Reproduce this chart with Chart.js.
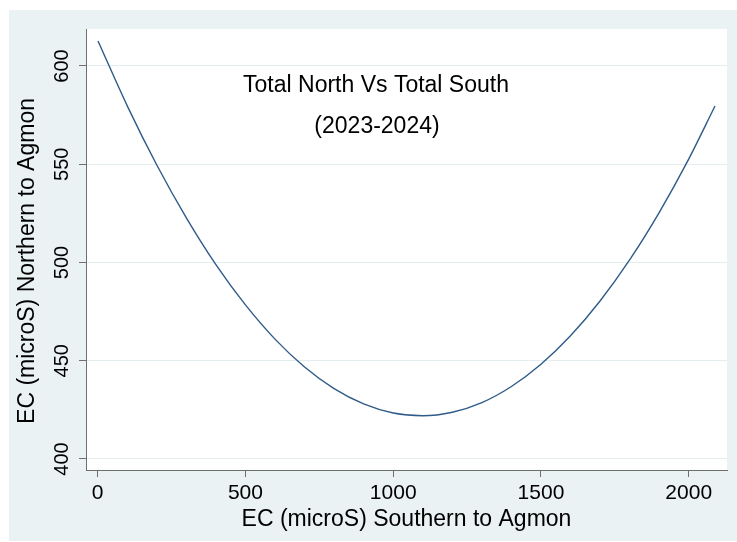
<!DOCTYPE html>
<html>
<head>
<meta charset="utf-8">
<script src="https://cdn.jsdelivr.net/npm/chart.js@4"></script>
<style>
  html, body { margin: 0; padding: 0; background: #fff; }
  #wrap { width: 737px; height: 542px; }
</style>
</head>
<body>
<div id="wrap"><canvas id="fit" width="737" height="542"></canvas></div>
<script>
// fitted curve
const southEC = [1, 100, 200, 300, 400, 500, 600, 700, 800, 900, 1000,
  1100, 1200, 1300, 1400, 1500, 1600, 1700, 1800, 1900, 2000, 2089];
const northEC = [612.7, 579.7, 549.6, 522.7, 498.9, 478.4, 461.0, 446.8, 435.8, 428.0, 423.4,
  422.0, 423.8, 428.7, 436.9, 448.2, 462.7, 480.4, 501.3, 525.4, 552.6, 579.6];
const xTicks = [0, 500, 1000, 1500, 2000];
const yTicks = [400, 450, 500, 550, 600];
const titleLines = ["Total North Vs Total South", "(2023-2024)"];
const xTitle = "EC (microS) Southern to Agmon";
const yTitle = "EC (microS) Northern to Agmon";

const FONT = "'Liberation Sans', Arial, sans-serif";
const AXIS = "#6f6f6f";

const points = southEC.map((x, i) => ({ x, y: northEC[i] }));

const backdrop = {
  id: "backdrop",
  beforeDraw(c) {
    const { ctx, chartArea: a } = c;
    ctx.save();
    ctx.fillStyle = "#fff";
    ctx.fillRect(0, 0, c.width, c.height);
    ctx.fillStyle = "#EAF2F3";
    ctx.fillRect(9, 10, 728, 531);
    ctx.fillStyle = "#fff";
    ctx.fillRect(a.left, a.top, a.right - a.left, a.bottom - a.top);
    ctx.restore();
  }
};

// titles and the upright y tick labels (Stata style)
const labels = {
  id: "labels",
  afterDraw(c) {
    const ctx = c.ctx;
    const ys = c.scales.y;
    ctx.save();
    ctx.fillStyle = "#000";
    ctx.textAlign = "center";
    ctx.textBaseline = "middle";
    ctx.font = "23px " + FONT;
    ctx.fillText(titleLines[0], 376, 86);
    ctx.fillText(titleLines[1], 377, 127);

    ctx.font = "20px " + FONT;
    yTicks.forEach(v => {
      ctx.save();
      ctx.translate(62, ys.getPixelForValue(v));
      ctx.rotate(-Math.PI / 2);
      ctx.fillText(String(v), 0, 0);
      ctx.restore();
    });

    ctx.translate(28, 261);
    ctx.rotate(-Math.PI / 2);
    ctx.font = "23px " + FONT;
    ctx.fillText(yTitle, 0, 0);
    ctx.restore();
  }
};

new Chart(document.getElementById("fit"), {
  type: "scatter",
  data: {
    datasets: [{
      data: points,
      showLine: true,
      borderColor: "#2f5b88",
      borderWidth: 1.4,
      pointRadius: 0,
      cubicInterpolationMode: "monotone"
    }]
  },
  options: {
    responsive: false,
    animation: false,
    devicePixelRatio: 1,
    layout: { padding: { left: 0, top: 29, right: 10, bottom: 0 } },
    plugins: { legend: { display: false }, tooltip: { enabled: false } },
    scales: {
      x: {
        type: "linear",
        min: -39.6,
        max: 2129.6,
        afterBuildTicks: s => { s.ticks = xTicks.map(v => ({ value: v })); },
        afterFit: s => { s.height = 72; },
        ticks: {
          font: { family: FONT, size: 21 }, color: "#000", padding: 4, maxRotation: 0, autoSkip: false,
          callback: v => String(v)
        },
        grid: { drawOnChartArea: false, drawTicks: true, tickLength: 7, tickColor: AXIS },
        border: { color: AXIS, width: 1 },
        title: { display: true, text: xTitle, color: "#000", font: { family: FONT, size: 23 }, padding: { top: 0, bottom: 9 } }
      },
      y: {
        type: "linear",
        min: 394.4,
        max: 618.8,
        afterBuildTicks: s => { s.ticks = yTicks.map(v => ({ value: v })); },
        afterFit: s => { s.width = 86; },
        ticks: { display: false },
        grid: { color: "#E4EDF0", lineWidth: 1, drawTicks: true, tickLength: 7, tickColor: AXIS },
        border: { color: AXIS, width: 1 }
      }
    }
  },
  plugins: [backdrop, labels]
});
</script>
</body>
</html>
